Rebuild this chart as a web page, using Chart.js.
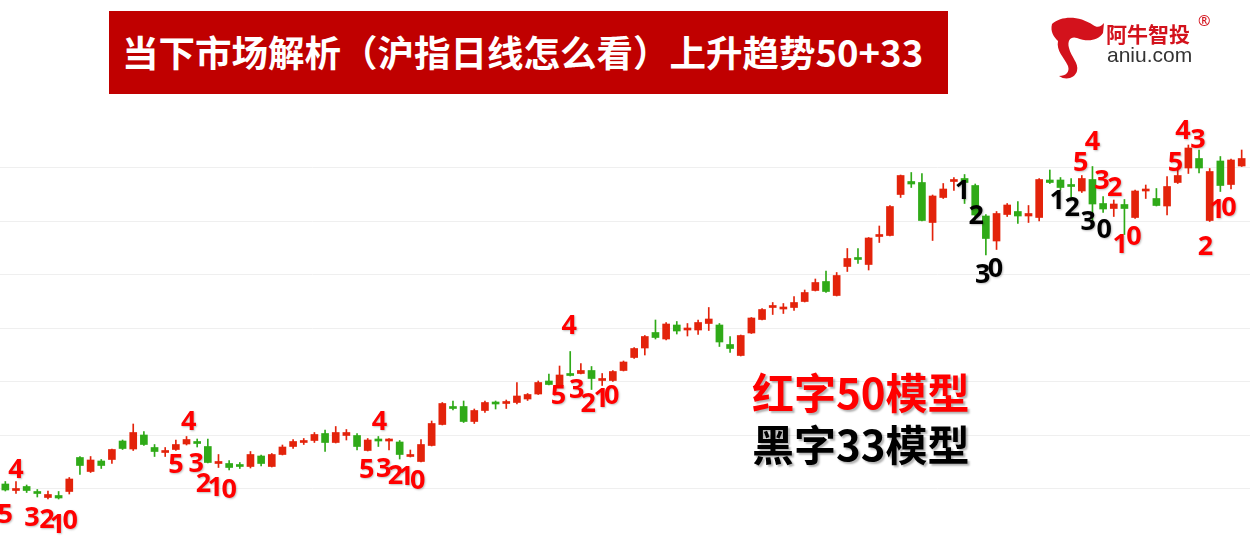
<!DOCTYPE html>
<html>
<head>
<meta charset="utf-8">
<script src="https://cdn.jsdelivr.net/npm/chart.js@4.4.1/dist/chart.umd.min.js"></script>
<style>
  html, body { margin:0; padding:0; background:#fff; }
  #wrap { position:relative; width:1250px; height:555px; overflow:hidden; background:#fff; }
  #kline { position:absolute; left:0; top:0; }
  .banner { position:absolute; left:109px; top:11px; width:839px; height:83px; background:#c00000; }
  .banner span { position:absolute; left:13px; top:19px; color:#fff; font:700 36.5px "Noto Sans CJK SC", sans-serif; white-space:nowrap; line-height:44px; }
  .note { position:absolute; left:752px; font:700 42px "Noto Sans CJK SC", sans-serif; white-space:nowrap; line-height:50px; text-shadow:2px 2px 2px rgba(0,0,0,.3); }
  .logo-cn { position:absolute; left:1106px; top:19px; color:#d3121c; font:700 21px "Noto Sans CJK SC", sans-serif; line-height:28px; }
  .logo-r { position:absolute; left:1198px; top:10px; color:#d3121c; font:400 15px "Noto Sans", sans-serif; }
  .logo-en { position:absolute; left:1107px; top:43px; color:#333; font:400 21px "Liberation Sans", Arial, sans-serif; line-height:24px; }
  #bull { position:absolute; left:1046px; top:12px; }
</style>
</head>
<body>
<div id="wrap">
  <canvas id="kline" width="1250" height="555"></canvas>
  <div class="banner"><span>当下市场解析（沪指日线怎么看）上升趋势50+33</span></div>
  <svg id="bull" width="62" height="70" viewBox="0 0 62 70">
    <path fill="#d3121c" d="M6,12 C16,3 34,4 47,13 C51,16 55,15 58,11 L57,21 C52,29 41,30 31,26 C25,24 21,28 23,36 C25,45 33,51 31,59 C29,66 20,69 13,64 C20,64 24,60 22,54 C18,45 10,39 12,29 C8,25 4,20 6,12 Z"/>
  </svg>
  <div class="logo-cn">阿牛智投</div>
  <div class="logo-r">®</div>
  <div class="logo-en">aniu.com</div>
  <div class="note" style="top:366px; color:#ff0000;">红字50模型</div>
  <div class="note" style="top:418px; color:#000;">黑字33模型</div>
</div>
<script>
// --- 数据 (日K) ---
const open  = [2232,2219,2227,2217,2205,2209,2217,2285,2257,2278,2281,2318,2302,2330,2305,2295,2301,2312,2315,2307,
               2273,2273,2270,2267,2288,2267,2291,2307,2315,2319,2333,2315,2329,2329,2299,2320,2318,2316,2287,2277,
               2309,2351,2386,2387,2357,2379,2395,2393,2395,2402,2412,2438,2429,2452,2453,2459,2439,2439,2459,2485,
               2504,2535,2522,2550,2540,2540,2553,2550,2511,2489,2534,2561,2585,2582,2585,2597,2619,2637,2609,2667,
               2684,2671,2727,2729,2811,2837,2835,2755,2805,2837,2843,2829,2768,2718,2771,2777,2768,2765,2840,2840,
               2830,2818,2841,2793,2783,2791,2765,2818,2803,2788,2835,2864,2883,2759,2878,2831,2868];
const high  = [2237,2237,2230,2221,2218,2217,2245,2287,2287,2281,2302,2320,2352,2337,2311,2305,2320,2327,2322,2322,
               2291,2279,2275,2297,2290,2293,2310,2321,2323,2335,2340,2347,2341,2333,2323,2327,2323,2319,2300,2321,
               2358,2395,2398,2398,2382,2398,2398,2400,2435,2413,2438,2452,2468,2497,2473,2467,2453,2459,2478,2505,
               2529,2560,2555,2557,2553,2560,2585,2553,2527,2530,2565,2583,2595,2593,2607,2620,2642,2658,2655,2703,
               2703,2725,2748,2789,2850,2855,2853,2810,2833,2845,2851,2832,2771,2777,2793,2797,2789,2843,2860,2845,
               2843,2849,2867,2807,2800,2801,2820,2830,2823,2847,2863,2910,2900,2863,2887,2882,2900];
const low   = [2218,2213,2215,2206,2202,2202,2212,2251,2255,2263,2273,2301,2299,2309,2287,2287,2299,2310,2306,2274,
               2265,2260,2263,2264,2268,2266,2290,2303,2311,2315,2297,2314,2320,2300,2298,2307,2300,2282,2286,2276,
               2308,2350,2380,2355,2353,2375,2382,2383,2392,2399,2411,2430,2428,2448,2452,2421,2429,2437,2458,2483,
               2490,2522,2520,2532,2528,2531,2539,2507,2495,2488,2533,2560,2571,2573,2579,2596,2618,2615,2608,2657,
               2673,2660,2715,2728,2805,2825,2758,2719,2803,2819,2793,2760,2690,2701,2767,2753,2755,2758,2833,2820,
               2805,2815,2756,2775,2767,2731,2763,2803,2788,2770,2833,2853,2854,2757,2817,2822,2867];
const close = [2220,2223,2219,2213,2211,2204,2242,2269,2280,2269,2301,2303,2335,2311,2297,2297,2311,2321,2313,2275,
               2275,2265,2267,2291,2273,2291,2306,2317,2317,2331,2315,2335,2335,2307,2320,2318,2320,2291,2289,2311,
               2353,2393,2383,2357,2379,2395,2392,2396,2408,2411,2435,2431,2450,2449,2459,2443,2442,2457,2476,2503,
               2527,2525,2552,2538,2544,2555,2562,2516,2503,2529,2564,2581,2588,2585,2595,2615,2635,2617,2649,2683,
               2681,2724,2729,2787,2849,2832,2759,2808,2822,2841,2835,2770,2723,2773,2790,2768,2773,2841,2835,2825,
               2827,2843,2792,2782,2792,2783,2818,2820,2789,2827,2849,2904,2864,2857,2829,2880,2883];
const days = open.map((_, i) => 'D' + (i + 1));

// 水平网格线所在的点位
const gridVals = [2224, 2331, 2438, 2545, 2652, 2759, 2866];

// 标注: [文字, K线序号, 点位, 颜色]
const RED = '#ff0000', BLK = '#000000';
const marks = [
  ['4', 1.0, 2260, RED], ['5', 0.0, 2170, RED], ['3', 2.5, 2164, RED], ['2', 3.9, 2160, RED], ['1', 4.9, 2150, RED], ['0', 6.1, 2158, RED],
  ['4', 17.2, 2356, RED], ['5', 16.0, 2270, RED], ['3', 17.9, 2272, RED], ['2', 18.6, 2232, RED], ['1', 19.7, 2224, RED], ['0', 21.0, 2220, RED],
  ['4', 35.1, 2356, RED], ['5', 33.9, 2260, RED], ['3', 35.5, 2262, RED], ['2', 36.6, 2248, RED], ['1', 37.6, 2246, RED], ['0', 38.7, 2238, RED],
  ['4', 52.9, 2548, RED], ['5', 51.9, 2408, RED], ['3', 53.6, 2420, RED], ['2', 54.7, 2392, RED], ['1', 55.9, 2402, RED], ['0', 56.9, 2408, RED],
  ['1', 89.8, 2818, BLK], ['2', 91.1, 2768, BLK], ['3', 91.7, 2650, BLK], ['0', 92.9, 2662, BLK],
  ['1', 98.7, 2798, BLK], ['2', 100.1, 2784, BLK], ['3', 101.6, 2756, BLK], ['0', 103.1, 2740, BLK],
  ['5', 100.9, 2874, RED], ['4', 102.0, 2916, RED], ['3', 102.9, 2838, RED], ['2', 104.1, 2824, RED], ['1', 104.6, 2710, RED], ['0', 105.9, 2726, RED],
  ['5', 109.8, 2874, RED], ['4', 110.5, 2938, RED], ['3', 111.9, 2920, RED], ['2', 112.6, 2706, RED], ['1', 113.7, 2780, RED], ['0', 114.8, 2784, RED]
];

const UP = '#e3230b', DOWN = '#2faa18';
const colors = open.map((o, i) => close[i] >= o ? UP : DOWN);

// --- plugins ---
const gridLines = {
  id: 'gridLines',
  beforeDatasetsDraw(chart){
    const { ctx } = chart, y = chart.scales.y;
    ctx.save();
    ctx.strokeStyle = '#efefef'; ctx.lineWidth = 1;
    gridVals.forEach(v => {
      const py = Math.round(y.getPixelForValue(v)) + 0.5;
      ctx.beginPath(); ctx.moveTo(0, py); ctx.lineTo(chart.width, py); ctx.stroke();
    });
    ctx.restore();
  }
};

const markLabels = {
  id: 'markLabels',
  afterDatasetsDraw(chart){
    const { ctx } = chart, xs = chart.scales.x, ys = chart.scales.y;
    ctx.save();
    ctx.font = 'bold 27px "Noto Sans", sans-serif';
    ctx.textAlign = 'center'; ctx.textBaseline = 'middle';
    ctx.shadowColor = 'rgba(0,0,0,0.25)'; ctx.shadowBlur = 2; ctx.shadowOffsetX = 1; ctx.shadowOffsetY = 1;
    marks.forEach(([t, i, v, c]) => {
      ctx.fillStyle = c;
      ctx.fillText(t, xs.getPixelForValue(i), ys.getPixelForValue(v));
    });
    ctx.restore();
  }
};

new Chart(document.getElementById('kline'), {
  type: 'bar',
  data: {
    labels: days,
    datasets: [
      { label:'实体', data: open.map((o, i) => [o, close[i]]), backgroundColor: colors,
        barThickness: 7, minBarLength: 2, grouped: false, order: 0, borderWidth: 0 },
      { label:'影线', data: low.map((l, i) => [l, high[i]]), backgroundColor: colors,
        barThickness: 1, grouped: false, order: 1, borderWidth: 0 }
    ]
  },
  options: {
    responsive: false,
    animation: false,
    events: [],
    layout: { padding: { left: 0, right: 3, top: 0, bottom: 0 } },
    plugins: { legend: { display:false }, tooltip: { enabled:false } },
    scales: {
      x: { display: false, offset: true },
      y: { display: false, min: 2090, max: 3200 }
    }
  },
  plugins: [gridLines, markLabels]
});
</script>
</body>
</html>
